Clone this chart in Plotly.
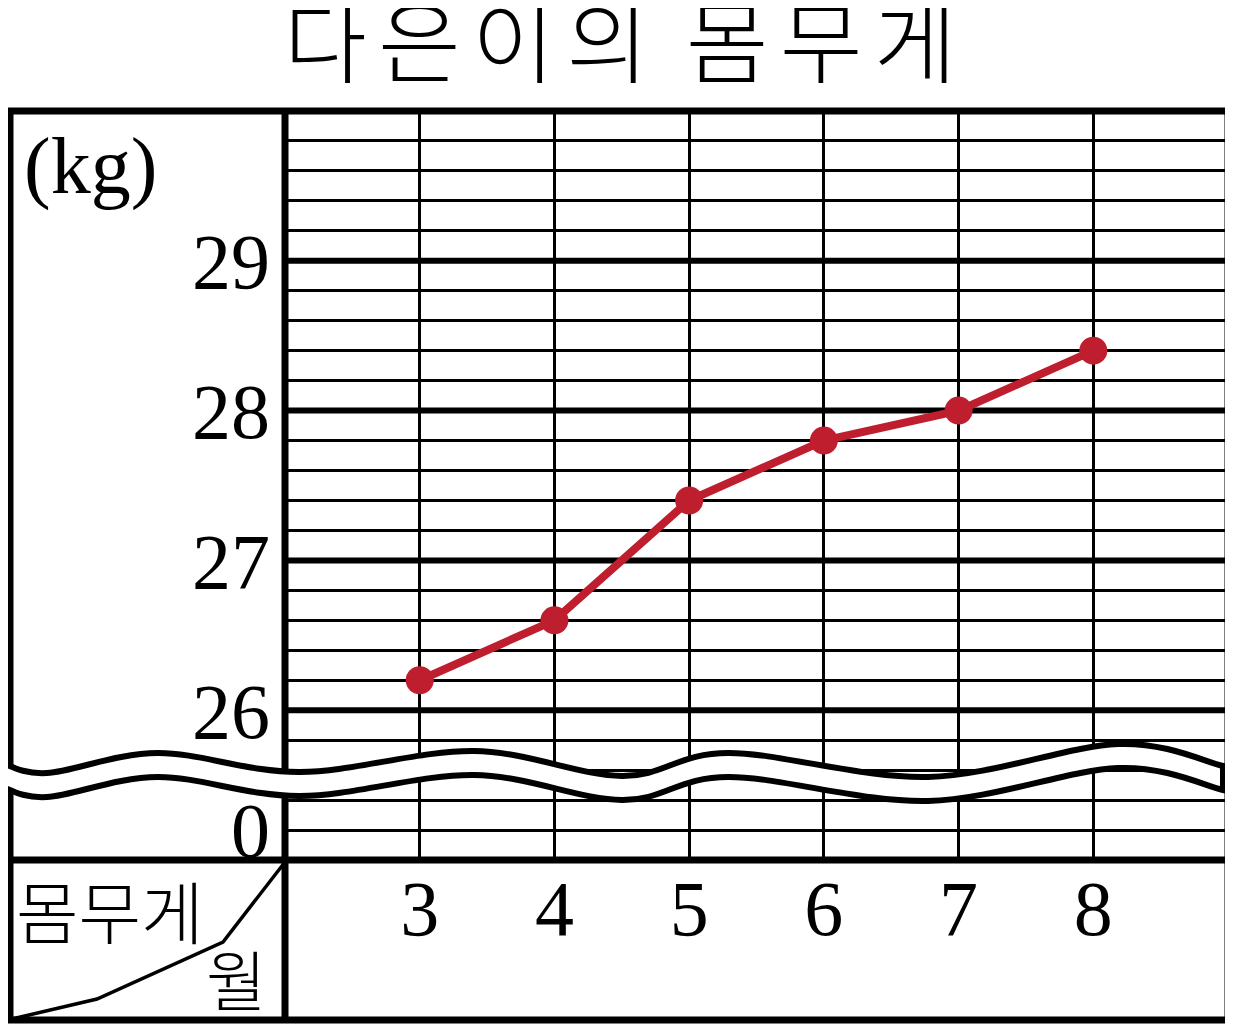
import plotly.graph_objects as go

# ---- data ----
months = [3, 4, 5, 6, 7, 8]
month_labels = ['3', '4', '5', '6', '7', '8']
weights = [26.2, 26.6, 27.4, 27.8, 28.0, 28.4]
y_label_values = [25.2, 26, 27, 28, 29]
y_label_texts = ['0', '26', '27', '28', '29']
major_kg = [26, 27, 28, 29]
HS = '\u200a\u200a'
title_text = HS.join('다은이의') + ' \u200a\u200a\u200a' + HS.join('몸무게')
unit_text = '(kg)'
row_header = '몸무게'
col_header = '월'

# ---- geometry (screen px; page body has an 8px margin) ----
OFF = 8
W, H = 1233 - OFF, 1024 - OFF
PL, PR, PT, PB = 285, 1228, 111, 860     # plot area on screen
L, T = PL - OFF, PT - OFF
R = W - (PR - OFF)
B = H - (PB - OFF)
PW = PR - PL
PH = PB - PT
Y_MIN, Y_MAX = 25.0, 30.0
X_MIN, X_MAX = 2, 9


def px(x):
    return (x - PL) / PW


def py(y):
    return (PB - y) / PH


RED = '#BE1E2D'
SERIF = 'Liberation Serif'
KR = 'Noto Sans CJK KR'

# grid ticks every 0.2 kg (axis decoration)
grid_vals = [round(Y_MIN + 0.2 * i, 1) for i in range(int(round((Y_MAX - Y_MIN) / 0.2)) + 1)]
label_map = {round(v, 1): t for v, t in zip(y_label_values, y_label_texts)}
grid_text = [label_map.get(v, '') for v in grid_vals]

fig = go.Figure()
fig.add_trace(go.Scatter(
    x=months, y=weights, mode='lines+markers',
    line=dict(color=RED, width=8),
    marker=dict(color=RED, size=28),
    hoverinfo='skip', showlegend=False,
))

shapes = []
# thick integer lines
for v in major_kg:
    shapes.append(dict(type='line', xref='paper', yref='y', x0=0, x1=1, y0=v, y1=v,
                       line=dict(color='black', width=6), layer='below'))

# table borders
shapes.append(dict(type='rect', xref='paper', yref='paper',
                   x0=px(10), x1=px(1228), y0=py(1020), y1=py(111),
                   line=dict(color='black', width=7), layer='above'))
shapes.append(dict(type='line', xref='paper', yref='paper',
                   x0=0, x1=0, y0=py(1020), y1=1,
                   line=dict(color='black', width=7), layer='above'))
shapes.append(dict(type='line', xref='paper', yref='paper',
                   x0=px(10), x1=px(1228), y0=0, y1=0,
                   line=dict(color='black', width=7), layer='above'))


def catmull(pts):
    segs = ''
    n = len(pts)
    for i in range(n - 1):
        p0 = pts[i - 1] if i > 0 else pts[i]
        p1 = pts[i]
        p2 = pts[i + 1]
        p3 = pts[i + 2] if i + 2 < n else pts[i + 1]
        c1 = (p1[0] + (p2[0] - p0[0]) / 6, p1[1] + (p2[1] - p0[1]) / 6)
        c2 = (p2[0] - (p3[0] - p1[0]) / 6, p2[1] - (p3[1] - p1[1]) / 6)
        segs += ' C{:.5f},{:.5f} {:.5f},{:.5f} {:.5f},{:.5f}'.format(c1[0], c1[1], c2[0], c2[1], p2[0], p2[1])
    return segs


# break (wave) band
upper_px = [(0, 762), (47, 773), (158, 753), (300, 772), (474, 751), (622, 776),
            (729, 753), (928, 777), (1118, 744), (1223, 766)]
gap = 24
upper = [(px(a), py(b)) for a, b in upper_px]
lower = [(px(a), py(b + gap)) for a, b in upper_px][::-1]
path = 'M{:.5f},{:.5f}'.format(*upper[0]) + catmull(upper)
path += ' L{:.5f},{:.5f}'.format(*lower[0]) + catmull(lower) + ' Z'
shapes.append(dict(type='path', xref='paper', yref='paper', path=path,
                   fillcolor='white', line=dict(color='black', width=6), layer='above'))

# diagonal header line
diag_px = [(285, 862), (223, 942), (97, 999), (12, 1019)]
dpath = 'M' + ' L'.join('{:.5f},{:.5f}'.format(px(a), py(b)) for a, b in diag_px)
shapes.append(dict(type='path', xref='paper', yref='paper', path=dpath,
                   line=dict(color='black', width=3.5), layer='above'))

annotations = [
    dict(text=title_text, xref='paper', yref='paper', x=px(620), y=py(37),
         xanchor='center', yanchor='middle', showarrow=False,
         font=dict(family=KR, size=90, color='black', weight=300)),
    dict(text=unit_text, xref='paper', yref='paper', x=px(22), y=py(166),
         xanchor='left', yanchor='middle', showarrow=False,
         font=dict(family=SERIF, size=80, color='black')),
    dict(text=row_header, xref='paper', yref='paper', x=px(14), y=py(910),
         xanchor='left', yanchor='middle', showarrow=False,
         font=dict(family=KR, size=68, color='black', weight=300)),
    dict(text=col_header, xref='paper', yref='paper', x=px(236), y=py(977),
         xanchor='center', yanchor='middle', showarrow=False,
         font=dict(family=KR, size=66, color='black', weight=300)),
]

fig.update_layout(
    width=W, height=H,
    margin=dict(l=L, r=R, t=T, b=B, pad=0),
    paper_bgcolor='white', plot_bgcolor='white',
    shapes=shapes, annotations=annotations,
    showlegend=False,
    xaxis=dict(range=[X_MIN, X_MAX], tickmode='array', tickvals=months, ticktext=month_labels,
               showgrid=True, gridcolor='black', gridwidth=3, zeroline=False,
               showline=False, ticks='', ticklabelstandoff=-4, automargin=False,
               tickfont=dict(family=SERIF, size=78, color='black'), fixedrange=True),
    yaxis=dict(range=[Y_MIN, Y_MAX], tickmode='array', tickvals=grid_vals, ticktext=grid_text,
               showgrid=True, gridcolor='black', gridwidth=3, zeroline=False,
               showline=False, ticks='', ticklabelstandoff=14, automargin=False,
               tickfont=dict(family=SERIF, size=78, color='black'), fixedrange=True),
)

fig.write_html('out.html')
